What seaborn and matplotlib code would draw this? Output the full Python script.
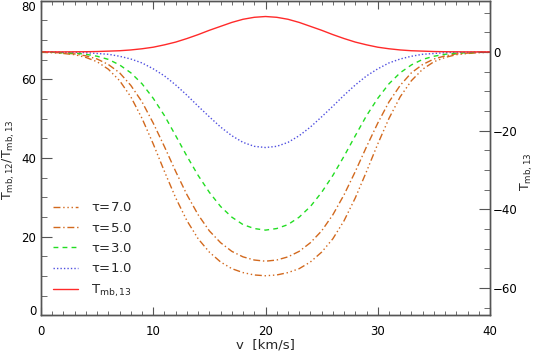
import numpy as np
import pandas as pd
import matplotlib
matplotlib.use('Agg')
import matplotlib.pyplot as plt
import seaborn as sns
from matplotlib.ticker import MultipleLocator

# velocity grid [km/s]
v = list(range(41))

# line ratio T_mb,12 / T_mb,13 for each optical depth (left axis)
tau1 = [67.0, 67.0, 66.9, 66.9, 66.8, 66.6, 66.4, 65.9, 65.2, 64.2, 62.7, 60.9, 58.6, 56.0,
        53.2, 50.5, 47.9, 45.7, 44.0, 43.0, 42.7, 43.0, 44.0, 45.7, 47.9, 50.5, 53.2, 56.0,
        58.6, 60.9, 62.7, 64.2, 65.2, 65.9, 66.4, 66.6, 66.8, 66.9, 66.9, 67.0, 67.0]
tau3 = [67.0, 66.9, 66.8, 66.7, 66.4, 65.9, 65.1, 63.7, 61.7, 58.9, 55.2, 50.8, 45.7, 40.5,
        35.6, 31.3, 27.7, 25.0, 23.1, 22.1, 21.7, 22.1, 23.1, 25.0, 27.7, 31.3, 35.6, 40.5,
        45.7, 50.8, 55.2, 58.9, 61.7, 63.7, 65.1, 65.9, 66.4, 66.7, 66.8, 66.9, 67.0]
tau5 = [66.9, 66.9, 66.7, 66.5, 66.0, 65.2, 63.8, 61.7, 58.5, 54.3, 48.9, 42.9, 36.6, 30.7,
        25.6, 21.5, 18.5, 16.3, 14.9, 14.1, 13.8, 14.1, 14.9, 16.3, 18.5, 21.5, 25.6, 30.7,
        36.6, 42.9, 48.9, 54.3, 58.5, 61.7, 63.8, 65.2, 66.0, 66.5, 66.7, 66.9, 66.9]
tau7 = [66.9, 66.8, 66.6, 66.3, 65.6, 64.5, 62.6, 59.7, 55.6, 50.1, 43.6, 36.6, 29.9, 24.1,
        19.5, 16.1, 13.6, 11.9, 10.9, 10.3, 10.1, 10.3, 10.9, 11.9, 13.6, 16.1, 19.5, 24.1,
        29.9, 36.6, 43.6, 50.1, 55.6, 59.7, 62.6, 64.5, 65.6, 66.3, 66.6, 66.8, 66.9]

# T_mb,13 profile (right axis)
tmb13 = [0.0, 0.01, 0.01, 0.03, 0.05, 0.1, 0.2, 0.3, 0.5, 0.8, 1.2, 1.8, 2.5, 3.4,
         4.4, 5.5, 6.5, 7.5, 8.3, 8.8, 9.0, 8.8, 8.3, 7.5, 6.5, 5.5, 4.4, 3.4, 2.5, 1.8,
         1.2, 0.8, 0.5, 0.3, 0.2, 0.1, 0.05, 0.03, 0.01, 0.01, 0.0]

left_ticks = [0, 20, 40, 60, 80]
right_ticks = [-60, -40, -20, 0]

sns.set_style("white")
plt.rcParams['font.family'] = ['DejaVu Sans']
plt.rcParams['mathtext.default'] = 'regular'
plt.rcParams['axes.edgecolor'] = '#555555'
plt.rcParams['axes.linewidth'] = 1.0

df = pd.DataFrame({'v': v, 'tau7': tau7, 'tau5': tau5, 'tau3': tau3,
                   'tau1': tau1, 'tmb13': tmb13})

orange = '#d2691e'
green = '#22dd22'
blue = '#5050e0'
red = '#ff2a2a'

fig = plt.figure(figsize=(5.38, 3.54), dpi=100)
ax = fig.add_axes([0.0762, 0.1088, 0.8346, 0.889])
ax2 = ax.twinx()

sns.lineplot(data=df, x='v', y='tau7', ax=ax, color=orange, lw=1.0,
             linestyle=(0, (5, 2, 1, 2, 1, 2, 1, 2)), label=r'$\tau$=7.0')
sns.lineplot(data=df, x='v', y='tau5', ax=ax, color=orange, lw=1.0,
             linestyle=(0, (5, 2, 1, 2)), label=r'$\tau$=5.0')
sns.lineplot(data=df, x='v', y='tau3', ax=ax, color=green, lw=1.0,
             linestyle=(0, (3.5, 3)), label=r'$\tau$=3.0')
sns.lineplot(data=df, x='v', y='tau1', ax=ax, color=blue, lw=1.0,
             linestyle=(0, (1, 1.5)), label=r'$\tau$=1.0')
sns.lineplot(data=df, x='v', y='tmb13', ax=ax2, color=red, lw=1.0,
             label=r'$T_{mb,13}$')

ax.set_xlim(0, 40)
ax.set_ylim(0, 80)
ax2.set_ylim(-67, 13)

ax.xaxis.set_major_locator(MultipleLocator(10))
ax.xaxis.set_minor_locator(MultipleLocator(1))
ax.set_yticks(left_ticks)
ax.yaxis.set_minor_locator(MultipleLocator(5))
ax2.set_yticks(right_ticks)
ax2.yaxis.set_minor_locator(MultipleLocator(5))

ax.tick_params(axis='x', which='both', direction='in', top=True, bottom=True,
               colors='#555555', labelcolor='black', labelsize=8.5, pad=7)
ax.tick_params(axis='x', which='major', length=6)
ax.tick_params(axis='x', which='minor', length=3)
ax.tick_params(axis='y', which='both', direction='in', left=True, right=False,
               colors='#555555', labelcolor='black', labelsize=8.5, pad=3.5)
ax.tick_params(axis='y', which='major', length=8)
ax.tick_params(axis='y', which='minor', length=4)
ax2.tick_params(axis='y', which='both', direction='in', right=True,
                colors='#555555', labelcolor='black', labelsize=8.5, pad=2)
ax2.tick_params(axis='y', which='major', length=8)
ax2.tick_params(axis='y', which='minor', length=4)

# keep the end labels of the left axis inside the frame
ylabels = ax.get_yticklabels()
ylabels[0].set_va('baseline')
ylabels[-1].set_va('top')

ax.set_xlabel('')
ax.set_ylabel('')
ax2.set_ylabel('')
fig.text(265 / 538, 1 - 345 / 354, 'v  [km/s]', fontsize=9.5, ha='center', va='center')
fig.text(8.5 / 538, 1 - 160 / 354, r'$T_{mb,12}/T_{mb,13}$', fontsize=9,
         rotation=90, ha='center', va='center')
fig.text(527 / 538, 1 - 172 / 354, r'$T_{mb,13}$', fontsize=9,
         rotation=90, ha='center', va='center')

h1, l1 = ax.get_legend_handles_labels()
h2, l2 = ax2.get_legend_handles_labels()
if ax2.get_legend():
    ax2.get_legend().remove()
ax.legend(h1 + h2, l1 + l2, loc='lower left', bbox_to_anchor=(0.026, 0.053),
          frameon=False, fontsize=9.5, handlelength=1.9, handletextpad=1.0,
          labelspacing=0.55, borderaxespad=0.0, borderpad=0.0)

fig.savefig('out.png', dpi=100)
